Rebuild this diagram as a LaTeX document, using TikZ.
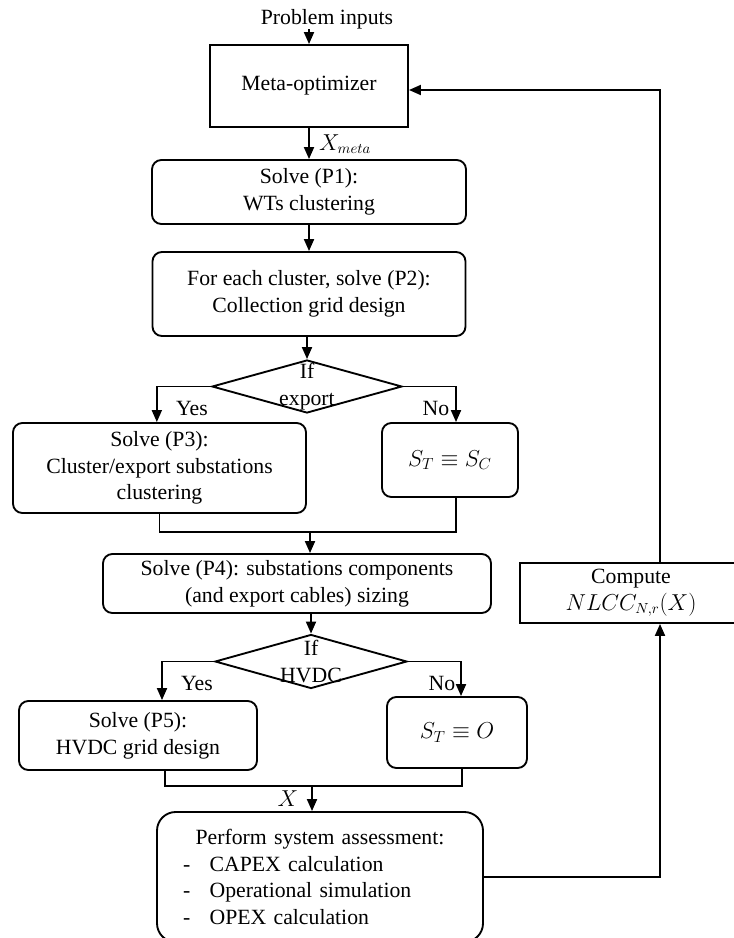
\documentclass[tikz,border=0pt]{standalone}
\usepackage{fontspec}
\setmainfont{Liberation Serif}
\usetikzlibrary{arrows.meta,positioning,shapes.geometric}
\newcommand{\flowfont}{\fontsize{16.3}{20}\selectfont}
\tikzset{
  >={Triangle[length=9pt,width=7.5pt]},
  link/.style={line width=1.4pt},
  flow/.style={->,line width=1.4pt},
  proc/.style={draw,line width=1.4pt,rounded corners=7pt,align=center,
    font=\flowfont,inner sep=2pt},
  plain box/.style={draw,line width=1.4pt,align=center,font=\flowfont},
  decision/.style={diamond,draw,line width=1.4pt,inner sep=0pt,
    label={[font=\flowfont,align=center]center:#1}},
  tag/.style={font=\flowfont,inner sep=0pt},
}

\begin{document}
\begin{tikzpicture}[x=0.75pt,y=-0.75pt]
  \useasboundingbox (0,0) rectangle (734,938);
  % main column
  \node[tag] (inputs) at (327,19) {Problem inputs};
  \node[plain box,minimum width=148.5pt,minimum height=61.5pt] (meta) at (309,86) {Meta-optimizer};
  \node[proc,minimum width=235.5pt,minimum height=48pt] (p1) at (309,192) {Solve (P1):\\WTs clustering};
  \node[proc,minimum width=234.75pt,minimum height=63pt] (p2) at (309,294) {For each cluster, solve (P2):\\Collection grid design};
  \node[decision={If\\export},minimum width=142.5pt,minimum height=39.75pt] (exportq) at (307,386.5) {};
  \node[proc,minimum width=219.75pt,minimum height=67.5pt] (p3) at (159.5,468) {Solve (P3):\\Cluster/export substations\\clustering};
  \node[proc,minimum width=102pt,minimum height=55.5pt] (sc) at (450,460) {\fontsize{18}{20}\selectfont$S_T\equiv S_C$};
  \node[proc,minimum width=291pt,minimum height=44.25pt] (p4) at (297,583.5) {Solve (P4): substations components\\(and export cables) sizing};
  \node[decision={If\\HVDC},minimum width=144pt,minimum height=40.5pt] (hvdcq) at (311,661.5) {};
  \node[proc,minimum width=178.5pt,minimum height=51.75pt] (p5) at (138,735.5) {Solve (P5):\\HVDC grid design};
  \node[proc,minimum width=105pt,minimum height=53.25pt] (so) at (457,732.5) {\fontsize{18}{20}\selectfont$S_T\equiv O$};
  \node[proc,rounded corners=14pt,minimum width=244.5pt,minimum height=97.5pt,
    text width=205.5pt,inner xsep=19.5pt,align=left] (assess) at (320,877)
    {\makebox[\hsize]{Perform system assessment:}\\
     \makebox[20pt][l]{-}CAPEX calculation\\
     \makebox[20pt][l]{-}Operational simulation\\
     \makebox[20pt][l]{-}OPEX calculation};
  \node[plain box,minimum width=166.5pt,minimum height=45pt] (nlcc) at (631,593) {Compute\\$NLCC_{N,r}(X)$};

  \coordinate (join1) at (310,532);
  \coordinate (join2) at (312,786);
  \coordinate (loop) at (660,90);

  \draw[flow] (inputs.south -| meta.north) -- (meta.north);
  \draw[flow] (meta) -- (p1);
  \node[tag] (xmeta) at (345,144) {$X_{meta}$};
  \draw[flow] (p1) -- (p2);
  \draw[flow] (p2.south -| exportq.north) -- (exportq.north);
  \draw[flow] (exportq.west) -| ([xshift=-2pt]p3.north);
  \draw[flow] (exportq.east) -| ([xshift=4.5pt]sc.north);
  \node[tag] (yes1) at (192,408) {Yes};
  \node[tag] (no1) at (436,408) {No};
  \draw[link] (p3.south) |- (join1) -| ([xshift=4.5pt]sc.south);
  \draw[flow] (join1) -- (join1 |- p4.north);
  \draw[flow] (hvdcq.north |- p4.south) -- (hvdcq.north);
  \draw[flow] (hvdcq.west) -| ([xshift=18pt]p5.north);
  \draw[flow] (hvdcq.east) -| ([xshift=3pt]so.north);
  \node[tag] (yes2) at (197,683) {Yes};
  \node[tag] (no2) at (442,683) {No};
  \draw[link] ([xshift=20.25pt]p5.south) |- (join2) -| ([xshift=3.75pt]so.south);
  \draw[flow] (join2) -- (join2 |- assess.north);
  \node[tag,font=\fontsize{19}{20}\selectfont] (xout) at (288,799) {$X$};
  % feedback loop
  \draw[flow] (assess.east) -| (loop |- nlcc.south);
  \draw[flow] (loop |- nlcc.north) -- (loop) -- (meta.east |- loop);
\end{tikzpicture}
\end{document}
